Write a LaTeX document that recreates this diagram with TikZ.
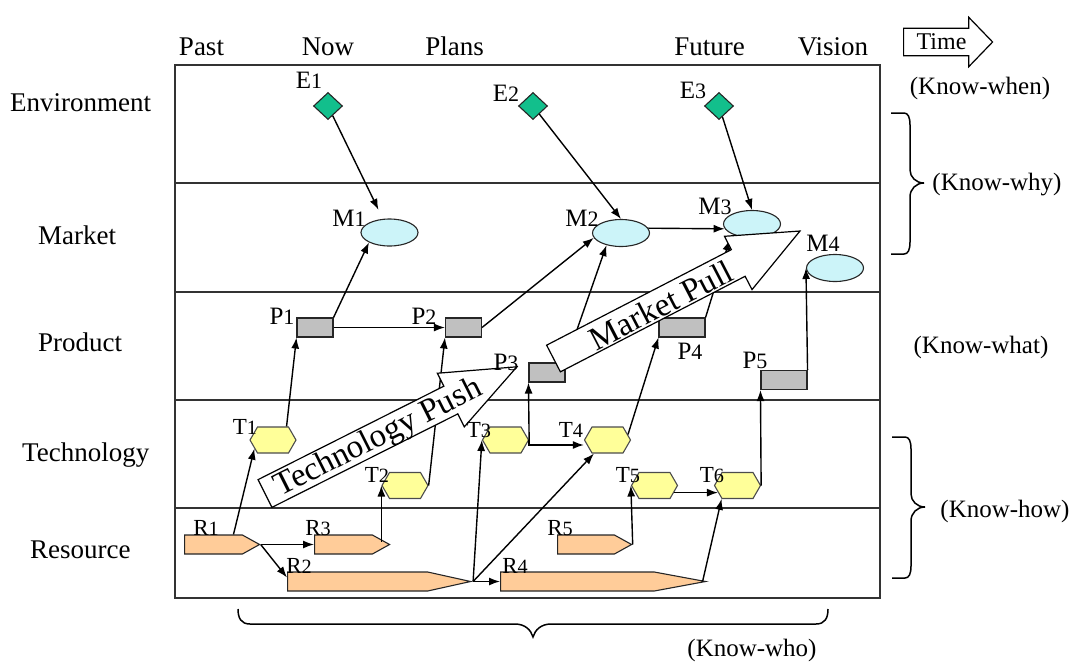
\documentclass[tikz,border=0pt]{standalone}
\usepackage{fontspec}
\setmainfont{Liberation Serif}
\usepackage{graphicx}
\usepackage{tikz}
\usetikzlibrary{arrows.meta, shapes.geometric, shapes.symbols, shapes.arrows,
                calc, positioning}
\definecolor{rmTeal}{HTML}{12BF8C}
\definecolor{rmCyan}{HTML}{CCF4F9}
\definecolor{rmGrey}{HTML}{C0C0C0}
\definecolor{rmYellow}{HTML}{FFFF99}
\definecolor{rmPeach}{HTML}{FFCC99}
\definecolor{rmLine}{HTML}{333333}
\newcommand{\fsz}[1]{\fontsize{#1}{#1}\selectfont}
\newcommand{\dg}[1]{\scalebox{0.88}{#1}}
\tikzset{
  lanebox/.style   = {rmLine, line width=1.5pt},
  conn/.style      = {-{Latex[length=11pt,width=8pt]}, line width=1.4pt, black},
  envnode/.style   = {diamond, draw=black!85, fill=rmTeal, line width=1.1pt,
                      minimum width=29pt, minimum height=27pt, inner sep=0pt},
  mktnode/.style   = {ellipse, draw=black!85, fill=rmCyan, line width=1.1pt,
                      minimum width=57pt, minimum height=27pt, inner sep=0pt},
  prodnode/.style  = {rectangle, draw=black!85, fill=rmGrey, line width=1.1pt,
                      minimum width=36pt, minimum height=19pt, inner sep=0pt},
  technode/.style  = {signal, signal to=east and west, signal pointer angle=120,
                      draw=black!70, fill=rmYellow, line width=1.1pt,
                      minimum width=46pt, minimum height=26pt, inner sep=0pt},
  resnode/.style   = {signal, signal to=east, signal pointer angle=#1,
                      draw=black!85, fill=rmPeach, line width=1.1pt,
                      minimum height=19pt, inner sep=0pt, anchor=west},
  resnode/.default = 58,
  lanelbl/.style   = {font=\fsz{27}, inner sep=0pt},
  idlbl/.style     = {font=\fsz{25}, inner sep=0pt},
  smlbl/.style     = {font=\fsz{23}, inner sep=0pt},
  knowlbl/.style   = {font=\fsz{25}, inner sep=0pt},
  bigarrow/.style  = {draw=black, fill=white, line width=1.2pt, line join=miter},
  pushlbl/.style   = {font=\fsz{33}, inner sep=0pt, transform shape},
  timearrow/.style = {single arrow, draw=black, fill=white, line width=1.2pt,
                      single arrow head extend=11pt, single arrow tip angle=92,
                      minimum height=89pt, inner xsep=3pt, inner ysep=5pt,
                      font=\fsz{24}},
  bracestroke/.style = {black, line width=1.5pt},
  rbrace/.pic = {
    \draw[bracestroke] (0,0) -- (13,0) .. controls (17,0) and (19,4) .. (19,12)
      -- (19,57) .. controls (19,64) and (25,70) .. (33,70)
      .. controls (25,70) and (19,76) .. (19,84) -- (19,129)
      .. controls (19,137) and (17,141) .. (13,141) -- (0,141);
  },
}

\begin{document}
\begin{tikzpicture}[x=1pt, y=-1pt]
  \useasboundingbox (0,0) rectangle (1073,662);
  % the five lanes
  \draw[lanebox] (175,65) rectangle (880,598);
  \draw[lanebox] (175,183) -- (880,183);
  \draw[lanebox] (175,292) -- (880,292);
  \draw[lanebox] (175,400) -- (880,400);
  \draw[lanebox] (175,508) -- (880,508);
  \node[lanelbl, anchor=base west] (lnEnv)  at (10,111) {Environment};
  \node[lanelbl, anchor=base west] (lnMkt)  at (38,244) {Market};
  \node[lanelbl, anchor=base west] (lnProd) at (38,351) {Product};
  \node[lanelbl, anchor=base west] (lnTech) at (22,461) {Technology};
  \node[lanelbl, anchor=base west] (lnRes)  at (30,558) {Resource};
  % time line
  \node[lanelbl, anchor=base] (hdPast)   at (201.5,55) {Past};
  \node[lanelbl, anchor=base] (hdNow)    at (328,55)   {Now};
  \node[lanelbl, anchor=base] (hdPlans)  at (454.5,55) {Plans};
  \node[lanelbl, anchor=base] (hdFuture) at (709.5,55) {Future};
  \node[lanelbl, anchor=base] (hdVision) at (833,55)   {Vision};
  \node[timearrow] (tm) at (941.5,42) {Time};

  % environment
  \node[envnode] (E1) at (328,106) {};
  \node[envnode] (E2) at (533,106) {};
  \node[envnode] (E3) at (719,106) {};
  % market
  \node[mktnode] (M1) at (389.5,232.5) {};
  \node[mktnode] (M2) at (621,233) {};
  \node[mktnode] (M3) at (752,224) {};
  \node[mktnode] (M4) at (835,268) {};
  % product
  \node[prodnode] (P1) at (315,327.5) {};
  \node[prodnode] (P2) at (463.5,327.5) {};
  \node[prodnode] (P3) at (547,372.5) {};
  \node[prodnode, minimum width=46pt] (P4) at (682,327.5) {};
  \node[prodnode, minimum width=46pt] (P5) at (784,380) {};
  % technology
  \node[technode] (T1) at (273,440) {};
  \node[technode] (T2) at (405,485.5) {};
  \node[technode] (T3) at (505.5,440) {};
  \node[technode] (T4) at (607.5,440) {};
  \node[technode] (T5) at (654.5,485.5) {};
  \node[technode] (T6) at (737.5,485.5) {};
  % resource
  \node[resnode, minimum width=75pt]     (R1) at (184,544.5) {};
  \node[resnode, minimum width=75pt]     (R3) at (314,544.5) {};
  \node[resnode, minimum width=74pt]     (R5) at (557,544.5) {};
  \node[resnode=25, minimum width=183pt] (R2) at (287,581.5) {};
  \node[resnode=21, minimum width=205pt] (R4) at (500,581.5) {};

  % links
  \draw[conn, shorten >=10pt] (E1) -- (M1);
  \draw[conn] (E2) -- (M2.north);
  \draw[conn] (E3) -- (M3.north);
  \draw[conn] (M2.10) -- (M3.190);
  \draw[conn] (P1.north east) -- (M1.south west);
  \draw[conn] (P1.east) -- (P2.west);
  \draw[conn] (P2.east) -- (M2.190);
  \draw[conn] (P3.north east) -- (M2.220);
  \draw[conn, shorten >=6pt] (P4.north east) -- (M3.south west);
  \draw[conn] (P5.north east) -- (M4.west);
  \draw[conn] (T1.45) -- (P1.south west);
  \draw[conn] (T2.east) -- (P2.south west);
  \draw[conn] (T3.east) -- (P3.south west);
  \draw[conn] (T3.east) |- ([yshift=-5pt]T4.west);
  \draw[conn] (T4.15) -- (P4.south west);
  \draw[conn] (T5.-20) -- (T6.200);
  \draw[conn] (T6.east) -- (P5.south west);
  \draw[conn] ([xshift=20pt]R1.north) -- (T1.205);
  \draw[conn] (R1.east) -- (R3.west);
  \draw[conn] (R1.east) -- ([yshift=4pt]R2.west);
  \draw[conn] ($(T2.west |- R3.east)+(0,-3)$) -- (T2.west);
  \draw[conn] (R2.east) -- (T3.west);
  \draw[conn] (R2.east) -- (T4.225);
  \draw[conn] (R2.east) -- (R4.west);
  \draw[conn] (R5.east) -- (T5.west);
  \draw[conn] ([xshift=-6pt]R4.east) -- (T6.220);

  % technology push
  \begin{scope}[shift={(265,493.5)}, rotate=26.7]
    \draw[bigarrow] (0,-15.5) -- (208,-15.5) -- (208,-30) -- (282,0)
      -- (208,30) -- (208,15.5) -- (0,15.5) -- cycle;
    \node[pushlbl] (tpush) at (126,2) {Technology Push};
  \end{scope}
  % market pull
  \begin{scope}[shift={(553.5,358.5)}, rotate=27.35]
    \draw[bigarrow] (0,-15) -- (208,-15) -- (208,-30) -- (277.5,0)
      -- (208,30) -- (208,15) -- (0,15) -- cycle;
    \node[pushlbl] (mpull) at (120,2) {Market Pull};
  \end{scope}

  % names of the items
  \node[idlbl] (lE1) at (309,80) {E\dg{1}};
  \node[idlbl] (lE2) at (506,93) {E\dg{2}};
  \node[idlbl] (lE3) at (693,90) {E\dg{3}};
  \node[idlbl] (lM1) at (349,218) {M\dg{1}};
  \node[idlbl] (lM2) at (582,218) {M\dg{2}};
  \node[idlbl] (lM3) at (715,206) {M\dg{3}};
  \node[idlbl] (lM4) at (823,243) {M\dg{4}};
  \node[idlbl] (lP1) at (282,316) {P\dg{1}};
  \node[idlbl] (lP2) at (424,316) {P\dg{2}};
  \node[idlbl] (lP3) at (506,362) {P\dg{3}};
  \node[idlbl] (lP4) at (690,351) {P\dg{4}};
  \node[idlbl] (lP5) at (755,360) {P\dg{5}};
  \node[smlbl] (lT1) at (245,427) {T\dg{1}};
  \node[smlbl] (lT2) at (377,475) {T\dg{2}};
  \node[smlbl] (lT3) at (479,430) {T\dg{3}};
  \node[smlbl] (lT4) at (571,430) {T\dg{4}};
  \node[smlbl] (lT5) at (628,475) {T\dg{5}};
  \node[smlbl] (lT6) at (712,475) {T\dg{6}};
  \node[smlbl] (lR1) at (206,528) {R\dg{1}};
  \node[smlbl] (lR3) at (318,528) {R\dg{3}};
  \node[smlbl] (lR5) at (560,528) {R\dg{5}};
  \node[smlbl] (lR2) at (299,566) {R\dg{2}};
  \node[smlbl] (lR4) at (515,566) {R\dg{4}};

  % kinds of knowledge
  \node[knowlbl] (kWhen) at (980,88)  {(Know-when)};
  \pic (brWhy) at (891,113) {rbrace};
  \node[knowlbl] (kWhy)  at (997,185) {(Know-why)};
  \node[knowlbl] (kWhat) at (981,347) {(Know-what)};
  \pic (brHow) at (892,437) {rbrace};
  \node[knowlbl] (kHow)  at (1005,511) {(Know-how)};
  \draw[bracestroke] (238,609) .. controls (238,618) and (241,624) .. (250,624)
    -- (515,624) .. controls (525,624) and (531,630) .. (533,637)
    .. controls (535,630) and (541,624) .. (551,624) -- (816,624)
    .. controls (825,624) and (828,618) .. (828,609);
  \node[knowlbl] (kWho)  at (752,650) {(Know-who)};
\end{tikzpicture}
\end{document}
